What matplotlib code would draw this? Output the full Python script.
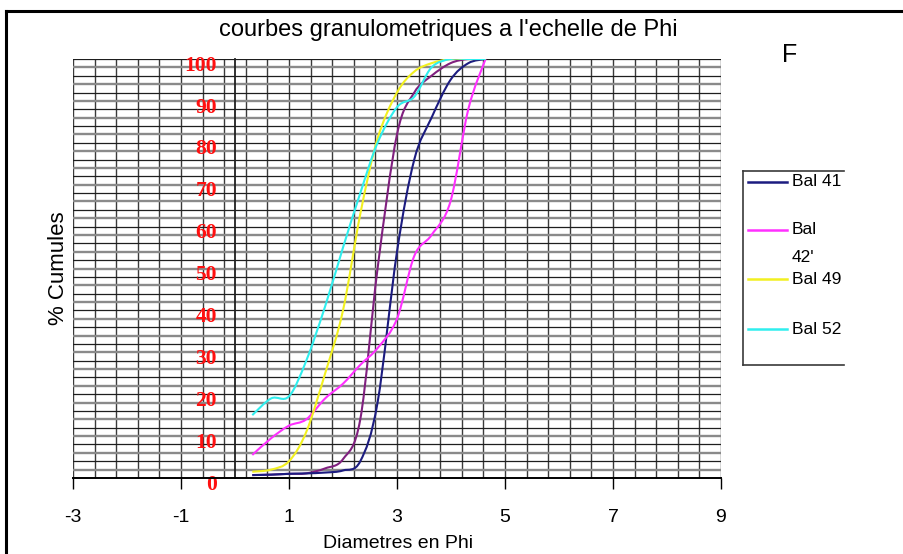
import textwrap

import numpy as np
import matplotlib
matplotlib.use("Agg")
import matplotlib.pyplot as plt
from matplotlib.path import Path
from matplotlib.patches import PathPatch
from matplotlib.lines import Line2D
from matplotlib.transforms import ScaledTranslation

# -------------------------------------------------------------------
# DATA
# -------------------------------------------------------------------
phi = [0.32, 0.67, 1.0, 1.32, 1.67, 2.0, 2.32, 2.64, 3.0, 3.32, 3.64, 3.99, 4.32, 4.64]

bal_41 = [0.7, 0.8, 1.0, 1.1, 1.3, 1.8, 4.0, 18, 54, 76, 86, 95, 99, 100]
bal_42 = [5.5, 9.5, 12.5, 14, 19, 22.5, 27, 31, 38, 53, 58, 66, 88, 100]
bal_49 = [1.5, 2.0, 4.0, 11, 25, 40, 63, 81, 92, 97, 99, 100, 100, 100]
bal_52 = [15, 19, 19.5, 28, 41, 55, 68, 80, 88.5, 91, 98, 100, 100, 100]
# fifth curve, present on the chart but missing from the (cut) legend
extra = [0.7, 0.8, 1.0, 1.1, 2.3, 4.5, 14, 50, 82, 92, 96, 99, 100, 100]

labels = ["Bal 41", "Bal 42'", "Bal 49", "Bal 52"]
colors = ["#1c1c80", "#ff30ff", "#f2f020", "#30eeee"]
extra_color = "#80207f"

x_ticks = [-3, -1, 1, 3, 5, 7, 9]
y_ticks = [0, 10, 20, 30, 40, 50, 60, 70, 80, 90, 100]

W, H = 904, 554


def fx(px):
    return px / W


def fy(py):
    return 1 - py / H


def smooth_path(x, y):
    """Excel-like smoothed line: cubic Bezier through every point."""
    pts = np.column_stack([x, y]).astype(float)
    n = len(pts)
    verts = [pts[0]]
    codes = [Path.MOVETO]
    for i in range(n - 1):
        p0 = pts[i - 1] if i > 0 else pts[i]
        p1 = pts[i]
        p2 = pts[i + 1]
        p3 = pts[i + 2] if i + 2 < n else pts[i + 1]
        verts += [p1 + (p2 - p0) / 6, p2 - (p3 - p1) / 6, p2]
        codes += [Path.CURVE4] * 3
    return Path(verts, codes)


# -------------------------------------------------------------------
# FIGURE
# -------------------------------------------------------------------
fig = plt.figure(figsize=(W / 100, H / 100), dpi=100)
fig.patch.set_facecolor("white")

ax = fig.add_axes([fx(73), fy(478), fx(721) - fx(73), fy(59) - fy(478)])
ax.set_xlim(-3, 9)
ax.set_ylim(0, 100)

# graph-paper grid
for gx in np.arange(-3, 9.01, 0.4):
    ax.axvline(gx, color="#3a3a3a", lw=1.0, zorder=1)
for i, gy in enumerate(np.arange(0, 100.1, 2)):
    if i % 2 == 0:
        ax.axhline(gy, color="#1e1e1e", lw=0.9, zorder=1)
    else:
        ax.axhline(gy, color="#8a8a8a", lw=1.7, zorder=1)

# curves
ax.add_patch(PathPatch(smooth_path(phi, extra), fill=False,
                       edgecolor=extra_color, lw=1.5, zorder=3))
for series, c in zip([bal_41, bal_42, bal_49, bal_52], colors):
    ax.add_patch(PathPatch(smooth_path(phi, series), fill=False,
                           edgecolor=c, lw=1.5, zorder=3))

# axes
for s in ["top", "right"]:
    ax.spines[s].set_visible(False)
ax.spines["left"].set_position(("data", 0))
ax.spines["left"].set_color("#202020")
ax.spines["left"].set_linewidth(1.3)
ax.spines["bottom"].set_color("black")
ax.spines["bottom"].set_linewidth(1.4)

ax.set_xticks(x_ticks)
ax.set_xticklabels([str(v) for v in x_ticks],
                   fontfamily="Liberation Sans", fontsize=14)
ax.tick_params(axis="x", direction="out", length=8, width=1.0, pad=14,
               color="black")

ax.set_yticks(y_ticks)
ax.set_yticklabels([str(v) for v in y_ticks], color="#ff1010",
                   fontfamily="Liberation Serif", fontweight="bold",
                   fontsize=15.5)
ax.tick_params(axis="y", length=0, pad=13)
for lbl in ax.get_yticklabels():
    lbl.set_transform(lbl.get_transform()
                      + ScaledTranslation(0, -3 / 72, fig.dpi_scale_trans))

# texts
fig.text(fx(448), fy(30), "courbes granulometriques a l'echelle de Phi",
         ha="center", va="center", fontsize=17, family="Liberation Sans")
fig.text(fx(398), fy(544), "Diametres en Phi", ha="center", va="center",
         fontsize=14, family="Liberation Sans")
fig.text(fx(59), fy(268), "% Cumules", ha="center", va="center",
         rotation=90, fontsize=16, family="Liberation Sans")
fig.text(fx(790), fy(55), "F", ha="center", va="center", fontsize=18,
         family="Liberation Sans")

# outer frame (top and left edges visible in the scan)
fig.add_artist(Line2D([fx(6), fx(904)], [fy(11), fy(11)], color="black",
                      lw=2.2, transform=fig.transFigure))
fig.add_artist(Line2D([fx(6), fx(6)], [fy(11), fy(554)], color="black",
                      lw=2.2, transform=fig.transFigure))

# legend (right border is cut off in the original)
lx0, lx1, ly0, ly1 = 742.7, 844, 170.7, 365
for xs, ys in [([lx0, lx1], [ly0, ly0]), ([lx0, lx0], [ly0, ly1]),
               ([lx0, lx1], [ly1, ly1])]:
    fig.add_artist(Line2D([fx(v) for v in xs], [fy(v) for v in ys],
                          color="#3a3a3a", lw=1.2, transform=fig.transFigure))

entry_y = [182, 230, 279, 329]
for lab, c, ey in zip(labels, colors, entry_y):
    fig.add_artist(Line2D([fx(748), fx(787)], [fy(ey), fy(ey)], color=c,
                          lw=1.8, transform=fig.transFigure))
    for k, part in enumerate(textwrap.wrap(lab, 6)):
        fig.text(fx(792), fy(ey + 28 * k), part, ha="left", va="center",
                 fontsize=12.5, family="Liberation Sans")

fig.savefig("out.png", dpi=100)
